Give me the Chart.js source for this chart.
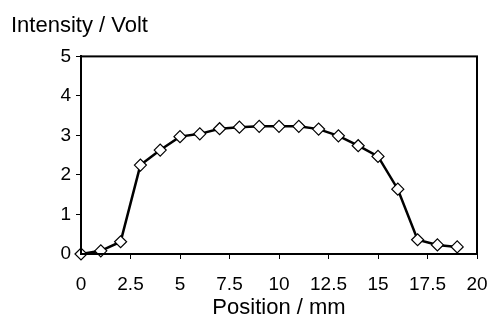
<!DOCTYPE html>
<html>
<head>
<meta charset="utf-8">
<script src="https://cdn.jsdelivr.net/npm/chart.js@4/dist/chart.umd.min.js"></script>
<style>
  html, body { margin: 0; padding: 0; background: #fff; }
  #wrap { width: 492px; height: 316px; }
</style>
</head>
<body>
<div id="wrap"><canvas id="myChart" width="492" height="316"></canvas></div>
<script>
// Positions along the scan (mm)
var position = [0,1,2,3,4,5,6,7,8,9,10,11,12,13,14,15,16,17,18,19];
// Measured intensity (V)
var intensity = [0,0.08,0.31,2.25,2.63,2.97,3.04,3.17,3.21,3.23,3.23,3.23,3.16,2.99,2.74,2.47,1.64,0.36,0.23,0.18];

var points = position.map(function (p, i) { return { x: p, y: intensity[i] }; });

// draw a closed frame around the plot area
var frame = {
  id: 'frame',
  afterDatasetsDraw: function (chart) {
    var a = chart.chartArea, c = chart.ctx;
    c.save();
    c.strokeStyle = '#000';
    c.lineWidth = 2;
    c.strokeRect(a.left, a.top, a.right - a.left, a.bottom - a.top);
    c.restore();
  }
};

Chart.defaults.font.family = '"Liberation Sans", Arial, sans-serif';
Chart.defaults.color = '#000';

var ctx = document.getElementById("myChart");
var myChart = new Chart(ctx, {
  type: 'scatter',
  data: {
    datasets: [
      {
        data: points,
        showLine: true,
        borderColor: '#000',
        borderWidth: 2.5,
        pointStyle: 'rectRot',
        pointRadius: 6,
        pointBackgroundColor: '#fff',
        pointBorderColor: '#000',
        pointBorderWidth: 1.2,
        fill: false,
        clip: false
      }
    ]
  },
  options: {
    responsive: false,
    animation: false,
    layout: { padding: { left: 11, right: 15, top: 0, bottom: 0 } },
    plugins: {
      legend: { display: false },
      tooltip: { enabled: false },
      title: {
        display: true,
        text: 'Intensity / Volt',
        align: 'start',
        font: { size: 22, weight: 'normal', lineHeight: 1.2 },
        padding: { top: 13, bottom: 17 }
      }
    },
    scales: {
      x: {
        type: 'linear',
        min: 0,
        max: 20,
        afterFit: function (s) { s.height = 62; s.paddingLeft = 0; s.paddingRight = 0; },
        ticks: { stepSize: 2.5, font: { size: 19 }, padding: 14, maxRotation: 0 },
        grid: { display: true, drawOnChartArea: false, drawTicks: true, tickLength: 5, color: '#000', lineWidth: 1 },
        border: { display: true, color: '#000', width: 2 },
        title: { display: true, text: 'Position / mm', font: { size: 22, lineHeight: 0.7 }, padding: { top: 0, bottom: 0 } }
      },
      y: {
        min: 0,
        max: 5,
        afterFit: function (s) { s.width = 70; },
        ticks: { stepSize: 1, font: { size: 19 }, padding: 5 },
        grid: { display: true, drawOnChartArea: false, drawTicks: true, tickLength: 5, color: '#000', lineWidth: 1 },
        border: { display: true, color: '#000', width: 2 }
      }
    }
  },
  plugins: [frame]
});
</script>
</body>
</html>
